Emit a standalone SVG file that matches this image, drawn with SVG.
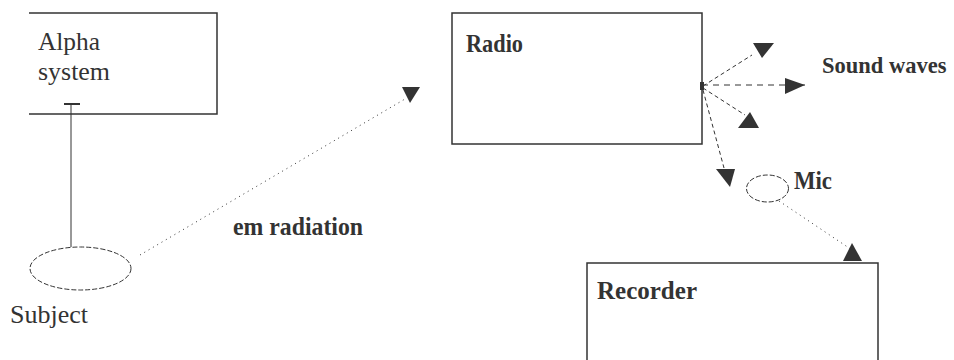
<svg xmlns="http://www.w3.org/2000/svg" width="954" height="360" viewBox="0 0 954 360">
<style>
.box{fill:none;stroke:#333;stroke-width:1.5}
.lbl{font-family:"Liberation Serif","Times New Roman",serif;font-size:25px;fill:#333}
.b{font-weight:bold}
.dot{fill:none;stroke:#333;stroke-width:1;stroke-dasharray:1 4}
.dash{fill:none;stroke:#333;stroke-width:1;stroke-dasharray:6 5}
.sdash{fill:none;stroke:#333;stroke-width:1;stroke-dasharray:4 3}
.head{fill:#333}
.ell{fill:none;stroke:#333;stroke-width:1;stroke-dasharray:5 2}
</style>
<rect width="954" height="360" fill="#fff"/>
<g id="alpha">
<path class="box" d="M29 13 H217 V114 H29"/>
<text class="lbl" x="38" y="50" textLength="62" lengthAdjust="spacingAndGlyphs">Alpha</text>
<text class="lbl" x="38" y="80" textLength="72" lengthAdjust="spacingAndGlyphs">system</text>
</g>
<g id="subject">
<ellipse class="ell" cx="80.5" cy="268.5" rx="50.5" ry="21.5"/>
<text class="lbl" x="10" y="323" textLength="78" lengthAdjust="spacingAndGlyphs">Subject</text>
</g>
<g id="radio">
<rect class="box" x="452" y="13" width="250" height="131"/>
<text class="lbl b" x="466" y="52" textLength="57" lengthAdjust="spacingAndGlyphs">Radio</text>
</g>
<g id="mic">
<ellipse class="ell" cx="767.5" cy="188.5" rx="21" ry="13.5" stroke-dasharray="2 1"/>
<text class="lbl b" x="794" y="189" textLength="38" lengthAdjust="spacingAndGlyphs">Mic</text>
</g>
<g id="recorder">
<path class="box" d="M587 362 V263 H878 V362"/>
<text class="lbl b" x="597" y="299" textLength="100" lengthAdjust="spacingAndGlyphs">Recorder</text>
</g>
<g id="soundwaves">
<text class="lbl b" x="822" y="73" style="font-size:22.5px">Sound waves</text>
</g>
<g id="emlabel">
<text class="lbl b" x="233" y="235" textLength="130" lengthAdjust="spacingAndGlyphs">em radiation</text>
</g>
<g id="connectors">
<line x1="71" y1="247" x2="71" y2="104" stroke="#333" stroke-width="1"/>
<line x1="64" y1="104" x2="80" y2="104" stroke="#333" stroke-width="2"/>
<line class="dot" x1="140" y1="255" x2="405" y2="99"/>
<polygon class="head" points="402,87 420,87 410,103"/>
<path class="sdash" d="M703 86 L752 55"/>
<polygon class="head" points="753,43 774,43 762,58"/>
<line class="dash" x1="702" y1="85" x2="805" y2="85"/>
<polygon class="head" points="785,78 805,85 785,94"/>
<path class="sdash" d="M703 88 L745 115"/>
<polygon class="head" points="750,112 759,128 738,128"/>
<path class="sdash" d="M703 90 L724 168"/>
<polygon class="head" points="716,169 735,169 730,187"/>
<path class="dot" d="M779 201 L852 250" stroke-dasharray="2 3"/>
<polygon class="head" points="852,243 862,261 843,261"/>
<rect x="700" y="82" width="4" height="8" class="head"/>
</g>
</svg>
